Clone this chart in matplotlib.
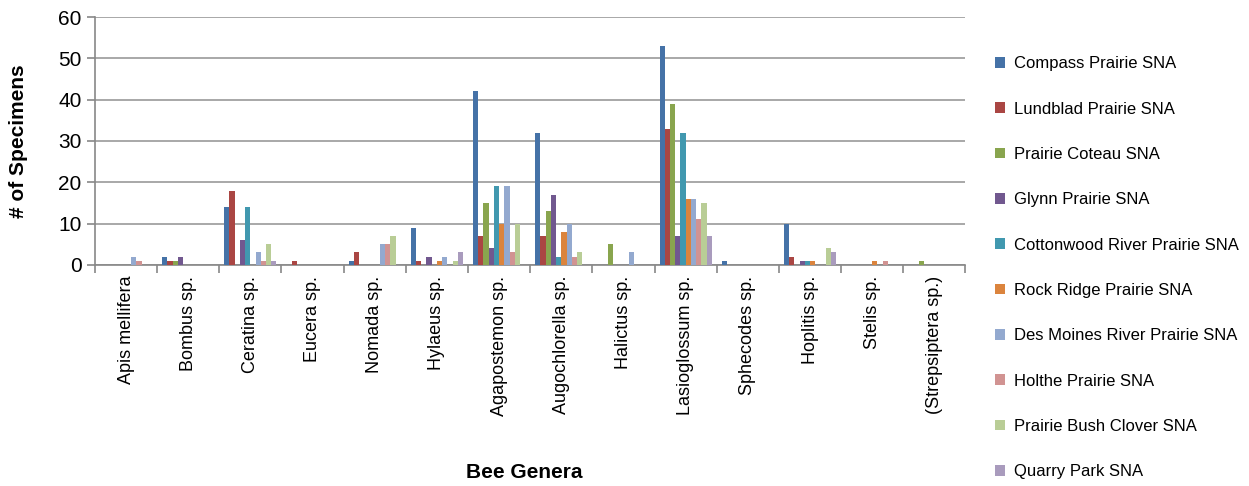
import matplotlib.pyplot as plt
import numpy as np

plt.rcParams['font.family'] = ['Liberation Sans', 'DejaVu Sans']

genera = ["Apis mellifera", "Bombus sp.", "Ceratina sp.", "Eucera sp.", "Nomada sp.",
          "Hylaeus sp.", "Agapostemon sp.", "Augochlorella sp.", "Halictus sp.",
          "Lasioglossum sp.", "Sphecodes sp.", "Hoplitis sp.", "Stelis sp.",
          "(Strepsiptera sp.)"]

sites = ["Compass Prairie SNA", "Lundblad Prairie SNA", "Prairie Coteau SNA",
         "Glynn Prairie SNA", "Cottonwood River Prairie SNA", "Rock Ridge Prairie SNA",
         "Des Moines River Prairie SNA", "Holthe Prairie SNA", "Prairie Bush Clover SNA",
         "Quarry Park SNA"]

compass    = [0, 2, 14, 0, 1, 9, 42, 32, 0, 53, 1, 10, 0, 0]
lundblad   = [0, 1, 18, 1, 3, 1, 7, 7, 0, 33, 0, 2, 0, 0]
coteau     = [0, 1, 0, 0, 0, 0, 15, 13, 5, 39, 0, 0, 0, 1]
glynn      = [0, 2, 6, 0, 0, 2, 4, 17, 0, 7, 0, 1, 0, 0]
cottonwood = [0, 0, 14, 0, 0, 0, 19, 2, 0, 32, 0, 1, 0, 0]
rock_ridge = [0, 0, 0, 0, 0, 1, 10, 8, 0, 16, 0, 1, 1, 0]
des_moines = [2, 0, 3, 0, 5, 2, 19, 10, 3, 16, 0, 0, 0, 0]
holthe     = [1, 0, 1, 0, 5, 0, 3, 2, 0, 11, 0, 0, 1, 0]
bush_clover = [0, 0, 5, 0, 7, 1, 10, 3, 0, 15, 0, 4, 0, 0]
quarry     = [0, 0, 1, 0, 0, 3, 0, 0, 0, 7, 0, 3, 0, 0]

series = [compass, lundblad, coteau, glynn, cottonwood, rock_ridge,
          des_moines, holthe, bush_clover, quarry]
colors = ["#4572A7", "#AA4643", "#89A54E", "#71588F", "#4198AF",
          "#DB843D", "#93A9CF", "#D19392", "#B9CD96", "#A99BBD"]

fig = plt.figure(figsize=(12.49, 4.86), dpi=100)
ax = fig.add_axes([0.076, 0.455, 0.697, 0.51])

x = np.arange(len(genera))
n = len(series)
w = 0.084
handles = []
for i, (vals, c) in enumerate(zip(series, colors)):
    off = (i - (n - 1) / 2) * w
    b = ax.bar(x + off, vals, width=w, color=c, linewidth=0,
               label=sites[i], zorder=3)
    handles.append(b)

ax.set_xlim(-0.5, len(genera) - 0.5)
ax.set_ylim(0, 60)
ax.set_yticks(range(0, 61, 10))
ax.yaxis.grid(True, color="#9a9a9a", linewidth=1.2, zorder=0)
ax.set_xticks(x)
ax.set_xticklabels(genera, rotation=90, fontsize=13)
ax.tick_params(axis="x", length=0, pad=8)
ax.set_xticks(np.arange(-0.5, len(genera)), minor=True)
ax.tick_params(axis="x", which="minor", length=6, color="#888888", width=1.2)
ax.tick_params(axis="y", labelsize=15, length=6, color="#888888", width=1.2)
for s in ["top", "right"]:
    ax.spines[s].set_visible(False)
for s in ["left", "bottom"]:
    ax.spines[s].set_color("#888888")
    ax.spines[s].set_linewidth(1.2)

ax.set_ylabel("# of Specimens", fontsize=15, fontweight="bold", labelpad=22)
fig.text(0.42, 0.017, "Bee Genera", fontsize=15, fontweight="bold", ha="center")

fig.legend(handles=handles, loc="upper left", bbox_to_anchor=(0.785, 0.915),
           frameon=False, fontsize=12, labelspacing=1.82, handlelength=0.6,
           handleheight=0.6, handletextpad=0.5)

fig.savefig("out.png", dpi=100)
